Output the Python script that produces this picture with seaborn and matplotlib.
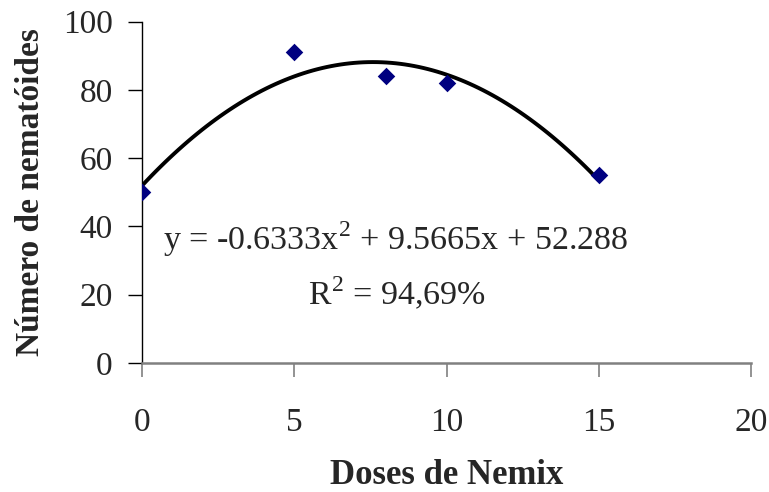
import matplotlib
matplotlib.use("Agg")
import matplotlib.pyplot as plt
import seaborn as sns
import pandas as pd

# dados
doses = [0, 5, 8, 10, 15]
nematoides = [50, 91, 84, 82, 55]
equacao = "y = -0.6333x$^2$ + 9.5665x + 52.288"
r2_txt = "R$^2$ = 94,69%"

df = pd.DataFrame({"Doses de Nemix": doses, "Número de nematóides": nematoides})

sns.set_style("white")
plt.rcParams["font.family"] = ["Liberation Serif", "DejaVu Serif"]
plt.rcParams["mathtext.fontset"] = "custom"
plt.rcParams["mathtext.rm"] = "Liberation Serif"

fig = plt.figure(figsize=(7.69, 4.92), dpi=100)
ax = fig.add_axes([0.1847, 0.2622, 0.7919, 0.6937])

sns.regplot(data=df, x="Doses de Nemix", y="Número de nematóides", order=2, ci=None,
            ax=ax, marker="D",
            scatter_kws={"color": "#000080", "s": 80, "zorder": 3, "linewidths": 0, "alpha": 1},
            line_kws={"color": "black", "lw": 2.8, "zorder": 2})

ax.set_xlim(0, 20)
ax.set_ylim(0, 100)
ax.set_xticks([0, 5, 10, 15, 20])
ax.set_yticks([0, 20, 40, 60, 80, 100])
ax.tick_params(axis="x", direction="out", length=10, width=1.2, pad=22, labelsize=24, color="#808080")
ax.tick_params(axis="y", direction="out", length=10, width=1, pad=11, labelsize=24, color="black")
ax.tick_params(bottom=True, left=True)
for s in ["top", "right"]:
    ax.spines[s].set_visible(False)
ax.spines["left"].set_color("black")
ax.spines["left"].set_linewidth(1)
ax.spines["bottom"].set_color("#808080")
ax.spines["bottom"].set_linewidth(1.8)

ax.set_xlabel("Doses de Nemix", fontsize=25, fontweight="bold", labelpad=15)
ax.set_ylabel("Número de nematóides", fontsize=24, fontweight="bold", labelpad=12)

ax.text(0.69, 33, equacao, fontsize=24.5, va="baseline", ha="left")
ax.text(5.45, 17, r2_txt, fontsize=24.5, va="baseline", ha="left")

fig.savefig("out.png", dpi=100)
